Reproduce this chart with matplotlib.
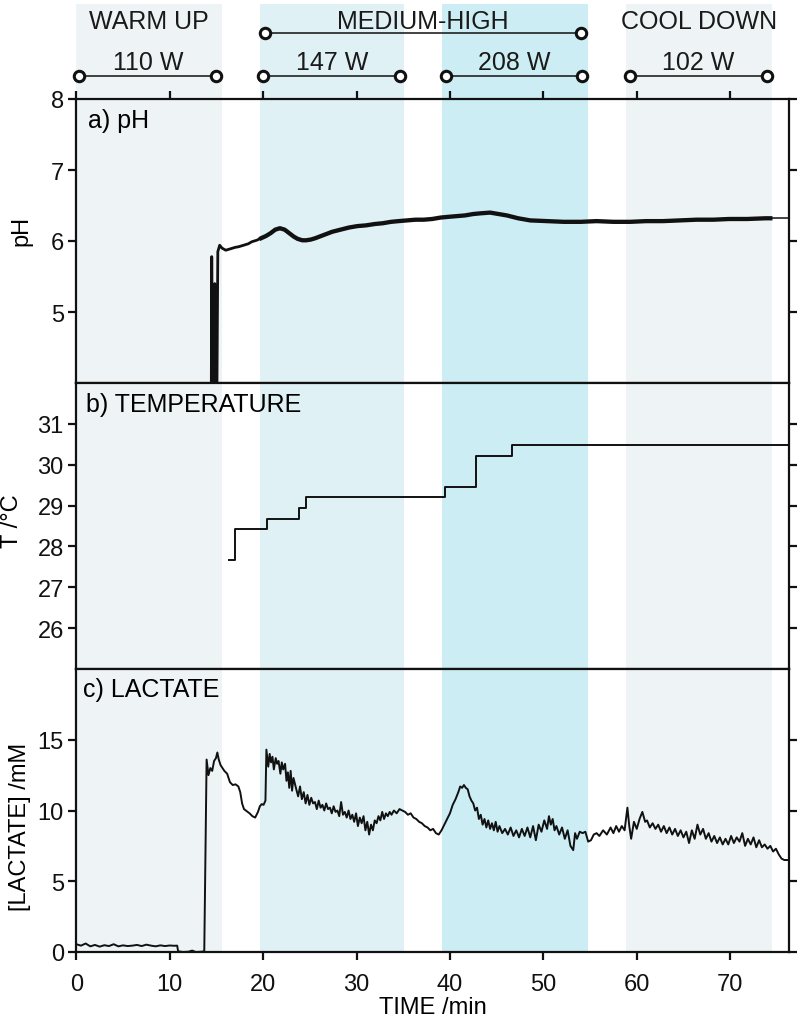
import matplotlib
matplotlib.use('Agg')
import matplotlib.pyplot as plt

plt.rcParams['font.family'] = ['Liberation Sans', 'DejaVu Sans']

# Protocol phases (min) and power steps
phase_names = ['WARM UP', 'MEDIUM-HIGH', 'COOL DOWN']
phase_label_x = [7.8, 37.1, 66.7]
band_start = [0.0, 19.7, 39.1, 58.8]
band_end = [15.6, 35.1, 54.8, 74.5]
band_colors = ['#eef4f6', '#e0f1f6', '#cdedf5', '#eef4f6']
medium_span = [20.2, 54.0]
power_labels = ['110 W', '147 W', '208 W', '102 W']
power_start = [0.3, 20.0, 39.6, 59.3]
power_end = [15.0, 34.7, 54.1, 73.9]

# a) pH
ph_t = [14.45, 14.5, 14.58, 14.75, 14.82, 14.9, 15.05, 15.15, 15.35, 15.6,
        16.0, 16.5, 17.0, 17.4, 17.9, 18.4, 18.8, 19.3, 19.8, 20.3,
        20.8, 21.3, 21.8, 22.3, 22.8, 23.3, 23.7, 24.2, 24.6, 25.1,
        25.6, 26.2, 26.8, 27.4, 28.3, 29.2, 30.1, 31.0, 32.0, 32.8,
        33.7, 34.5, 35.4, 36.3, 37.2, 38.1, 39.0, 39.8, 40.7, 41.6,
        42.5, 43.3, 44.3, 45.2, 46.1, 47.3, 48.6, 50.4, 52.2, 54.0,
        55.7, 57.5, 59.3, 61.0, 62.8, 64.6, 66.4, 68.2, 69.9, 71.8,
        73.8, 74.3, 76.3]
ph_v = [3.8, 5.78, 3.8, 3.8, 5.4, 3.8, 3.8, 5.85, 5.94, 5.9,
        5.87, 5.89, 5.91, 5.92, 5.94, 5.96, 5.99, 6.01, 6.04, 6.07,
        6.11, 6.16, 6.18, 6.16, 6.11, 6.06, 6.03, 6.01, 6.01, 6.02,
        6.04, 6.07, 6.10, 6.13, 6.16, 6.19, 6.21, 6.22, 6.24, 6.25,
        6.27, 6.28, 6.29, 6.30, 6.30, 6.31, 6.33, 6.34, 6.35, 6.36,
        6.38, 6.39, 6.40, 6.38, 6.36, 6.32, 6.29, 6.28, 6.27, 6.27,
        6.28, 6.27, 6.27, 6.28, 6.28, 6.29, 6.30, 6.30, 6.31, 6.31,
        6.32, 6.32, 6.32]

# b) temperature (stepwise readings)
temp_t = [16.4, 17.0, 20.4, 23.8, 24.6, 39.5, 42.8, 46.6, 76.3]
temp_v = [27.67, 28.42, 28.68, 28.93, 29.21, 29.46, 30.21, 30.49, 30.49]

# c) lactate
lac_t = [0.0, 0.5, 1.0, 1.5, 2.0, 2.5, 3.0, 3.5, 4.0, 4.5, 5.0, 5.5, 6.0, 6.5,
         7.0, 7.5, 8.0, 8.5, 9.0, 9.5, 10.0, 10.5, 10.8, 10.9, 11.4, 12.0,
         12.4, 12.8, 13.4, 13.7, 13.95, 14.15, 14.35, 14.55, 14.75, 14.95,
         15.1, 15.25, 15.45, 15.65, 15.85, 16.15, 16.45, 16.75, 17.05, 17.35,
         17.55, 17.75, 17.95, 18.25, 18.55, 18.85, 19.15, 19.45, 19.65, 19.85,
         20.05, 20.25, 20.35, 20.55, 20.7, 20.85, 21.0, 21.15, 21.35, 21.5,
         21.65, 21.85, 22.0, 22.15, 22.35, 22.5, 22.65, 22.8, 22.95, 23.1,
         23.25, 23.4, 23.55, 23.75, 23.95, 24.15, 24.35, 24.55, 24.75, 24.95,
         25.15, 25.35, 25.55, 25.75, 25.95, 26.15, 26.35, 26.55, 26.75, 26.95,
         27.15, 27.35, 27.55, 27.75, 27.95, 28.15, 28.35, 28.55, 28.75, 28.95,
         29.15, 29.35, 29.55, 29.75, 29.95, 30.15, 30.35, 30.55, 30.75, 30.95,
         31.15, 31.35, 31.55, 31.75, 31.95, 32.15, 32.35, 32.55, 32.75, 32.95,
         33.15, 33.35, 33.55, 33.75, 34.0, 34.3, 34.6, 34.9, 35.2, 35.5,
         35.8, 36.1, 36.4, 36.7, 37.0, 37.3, 37.6, 37.9, 38.2, 38.5,
         38.8, 39.1, 39.4, 39.7, 40.0, 40.3, 40.6, 40.9, 41.1, 41.3,
         41.5, 41.7, 41.9, 42.1, 42.3, 42.5, 42.7, 42.9, 43.1, 43.3,
         43.5, 43.7, 43.9, 44.1, 44.3, 44.5, 44.7, 44.9, 45.1, 45.3,
         45.6, 45.9, 46.2, 46.5, 46.8, 47.1, 47.4, 47.7, 48.0, 48.3,
         48.6, 48.9, 49.2, 49.5, 49.8, 50.1, 50.4, 50.6, 50.8, 51.0,
         51.2, 51.4, 51.7, 52.0, 52.3, 52.6, 52.9, 53.2, 53.4, 53.6,
         53.9, 54.2, 54.5, 54.8, 55.1, 55.4, 55.7, 56.0, 56.4, 56.8,
         57.2, 57.5, 57.8, 58.1, 58.4, 58.7, 59.0, 59.2, 59.4, 59.7,
         60.0, 60.3, 60.6, 60.9, 61.1, 61.4, 61.7, 62.0, 62.3, 62.6,
         62.9, 63.2, 63.5, 63.8, 64.1, 64.4, 64.7, 65.0, 65.3, 65.6,
         65.9, 66.2, 66.5, 66.8, 67.1, 67.4, 67.7, 68.0, 68.3, 68.6,
         68.9, 69.2, 69.5, 69.8, 70.1, 70.4, 70.7, 71.0, 71.3, 71.6,
         71.9, 72.2, 72.5, 72.8, 73.1, 73.4, 73.7, 74.0, 74.3, 74.6,
         74.9, 75.2, 75.5, 75.8, 76.1]
lac_v = [0.55, 0.45, 0.6, 0.4, 0.5, 0.38, 0.48, 0.42, 0.55, 0.4, 0.47, 0.42, 0.45, 0.5,
         0.42, 0.52, 0.45, 0.4, 0.47, 0.42, 0.46, 0.44, 0.45, 0.05, 0.0, 0.02,
         0.1, 0.0, 0.02, 0.05, 13.6, 12.5, 13.0, 12.8, 13.5, 13.7,
         14.1, 13.6, 13.2, 13.0, 12.8, 12.6, 12.0, 11.8, 11.85, 11.7,
         11.3, 10.5, 10.1, 9.95, 9.8, 9.6, 9.5, 9.9, 10.3, 10.45,
         10.4, 10.7, 14.3, 13.1, 14.0, 13.4, 13.8, 12.9, 13.7, 13.3,
         13.5, 12.6, 13.4, 12.9, 13.3, 12.1, 12.7, 11.6, 12.8, 11.4,
         12.3, 11.9, 11.5, 11.0, 11.7, 10.8, 11.3, 10.5, 11.1, 10.4,
         10.9, 10.5, 10.6, 10.1, 10.7, 10.2, 10.4, 10.0, 10.5, 10.1,
         10.2, 9.8, 10.3, 9.9, 10.0, 9.6, 10.6, 9.7, 9.9, 9.5,
         10.0, 9.4, 9.7, 9.2, 9.8, 8.9, 9.5, 9.1, 9.6, 8.6,
         9.2, 8.3, 9.0, 8.6, 9.3, 9.1, 9.6, 9.3, 9.9, 9.4,
         9.8, 9.6, 9.9, 9.7, 10.0, 9.8, 10.1, 10.0, 9.9, 9.7,
         9.8, 9.5, 9.4, 9.2, 9.1, 8.9, 8.8, 8.6, 8.7, 8.4,
         8.3, 8.6, 9.0, 9.4, 9.8, 10.4, 10.8, 11.3, 11.7, 11.6,
         11.8, 11.6, 11.5, 11.0, 10.7, 10.5, 10.0, 10.2, 9.4, 9.7,
         9.0, 9.4, 8.8, 9.3, 8.7, 9.1, 8.6, 9.2, 8.5, 8.9,
         8.4, 8.7, 8.3, 8.8, 8.2, 8.6, 8.1, 8.7, 8.2, 8.8,
         8.1, 8.9, 7.9, 9.0, 8.5, 9.3, 8.7, 9.6, 9.0, 9.4,
         8.6, 8.9, 8.3, 8.8, 8.0, 8.6, 7.5, 7.2, 8.4, 8.0,
         8.5, 8.4, 8.5, 7.8, 7.9, 8.3, 8.4, 8.2, 8.6, 8.3,
         8.8, 8.4, 8.9, 8.5, 8.9, 8.6, 10.2, 8.9, 8.0, 9.2,
         8.7, 9.4, 9.9, 9.2, 9.3, 8.8, 9.1, 8.7, 9.0, 8.5,
         8.9, 8.4, 8.8, 8.3, 8.7, 8.2, 8.6, 8.1, 8.5, 7.7,
         8.6, 8.0, 9.0, 8.3, 8.7, 8.0, 8.4, 7.8, 8.2, 7.7,
         8.1, 7.6, 8.0, 7.6, 8.2, 7.7, 8.1, 7.8, 8.4, 7.5,
         8.0, 7.6, 8.1, 7.4, 7.9, 7.4, 7.6, 7.3, 7.5, 7.1,
         7.3, 6.9, 6.6, 6.5, 6.5]

x_ticks = [0, 10, 20, 30, 40, 50, 60, 70]
x_max = 76.3
ph_ticks = [5, 6, 7, 8]
temp_ticks = [26, 27, 28, 29, 30, 31]
lac_ticks = [0, 5, 10, 15]

W_PX, H_PX = 798, 1020
fig = plt.figure(figsize=(W_PX / 100, H_PX / 100), dpi=100)
left = 76.3 / W_PX
width = (789 - 76.3) / W_PX


def px_axes(top_px, bottom_px):
    return fig.add_axes([left, 1 - bottom_px / H_PX, width, (bottom_px - top_px) / H_PX])


ax_h = px_axes(5, 100)
ax_a = px_axes(100, 384)
ax_b = px_axes(384, 670)
ax_c = px_axes(670, 953)

for ax in (ax_h, ax_a, ax_b, ax_c):
    ax.set_xlim(0, x_max)
    for s, e, c in zip(band_start, band_end, band_colors):
        ax.axvspan(s, e, color=c, lw=0, zorder=0)

# Header with phases and power levels
ax_h.set_ylim(0, 95)
ax_h.axis('off')
for name, x in zip(phase_names, phase_label_x):
    ax_h.text(x, 78, name, ha='center', va='center', fontsize=18, color='#1a1a1a')
ax_h.plot(medium_span, [66, 66], color='#222222', lw=1.2, marker='o', ms=7.5,
          mfc='white', mec='#111111', mew=2.2, clip_on=False, zorder=3)
for lbl, s, e in zip(power_labels, power_start, power_end):
    ax_h.plot([s, e], [23.5, 23.5], color='#222222', lw=1.2, marker='o', ms=7.5,
              mfc='white', mec='#111111', mew=2.2, clip_on=False, zorder=3)
    ax_h.text((s + e) / 2, 37, lbl, ha='center', va='center', fontsize=18,
              color='#1a1a1a')

# a) pH: noisy trace drawn thicker where the signal is noisier
i0 = ph_t.index(19.8)
i1 = ph_t.index(74.3)
ax_a.plot(ph_t[:i0 + 1], ph_v[:i0 + 1], color='#111111', lw=2.0, zorder=3)
ax_a.plot(ph_t[i0:i1 + 1], ph_v[i0:i1 + 1], color='#111111', lw=3.1, zorder=3)
ax_a.plot(ph_t[i1:], ph_v[i1:], color='#111111', lw=1.1, zorder=3)
ax_a.set_ylim(4, 8)
ax_a.set_yticks(ph_ticks)
ax_a.set_xticks(x_ticks)
ax_a.tick_params(axis='x', top=True, bottom=False, labeltop=False, labelbottom=False)
ax_a.set_ylabel('pH')
ax_a.text(0.016, 0.97, 'a) pH', transform=ax_a.transAxes, ha='left', va='top', fontsize=18)

# b) temperature
ax_b.plot(temp_t, temp_v, color='#111111', lw=1.4, drawstyle='steps-post', zorder=3)
ax_b.set_ylim(25, 32)
ax_b.set_yticks(temp_ticks)
ax_b.set_xticks([])
ax_b.set_ylabel('T /°C')
ax_b.text(0.013, 0.97, 'b) TEMPERATURE', transform=ax_b.transAxes, ha='left', va='top', fontsize=18)

# c) lactate
ax_c.plot(lac_t, lac_v, color='#111111', lw=1.4, zorder=3)
ax_c.set_ylim(0, 20)
ax_c.set_yticks(lac_ticks)
ax_c.set_xticks(x_ticks)
ax_c.set_xlabel('TIME /min', labelpad=1)
ax_c.set_ylabel('[LACTATE] /mM')
ax_c.text(0.01, 0.97, 'c) LACTATE', transform=ax_c.transAxes, ha='left', va='top', fontsize=18)

for ax in (ax_a, ax_b, ax_c):
    for sp in ax.spines.values():
        sp.set_linewidth(1.6)
        sp.set_color('#111111')
    ax.tick_params(axis='both', direction='out', length=6, width=1.6,
                   labelsize=17, pad=3, colors='#111111')
    ax.tick_params(axis='y', right=True)
    ax.yaxis.label.set_size(17)
    ax.xaxis.label.set_size(17)
ax_c.tick_params(axis='x', pad=9)
ax_a.yaxis.set_label_coords(-0.062, 0.54)
ax_b.yaxis.set_label_coords(-0.075, 0.52)
ax_c.yaxis.set_label_coords(-0.064, 0.445)

fig.savefig('out.png', dpi=100)
